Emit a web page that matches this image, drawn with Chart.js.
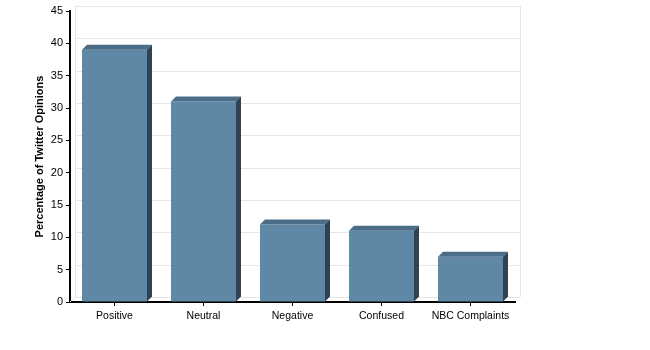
<!DOCTYPE html>
<html lang="en">
<head>
<meta charset="UTF-8">
<title>Twitter Opinions</title>
<script src="https://cdn.jsdelivr.net/npm/chart.js"></script>
<style>
    body { margin: 0; background: #fff; }
</style>
</head>
<body>
<canvas id="bar-chart" width="650" height="350"></canvas>

<script>
    var categories = ['Positive', 'Neutral', 'Negative', 'Confused', 'NBC Complaints'];
    var percentages = [39, 31, 12, 11, 7];
    var yTicks = [0, 5, 10, 15, 20, 25, 30, 35, 40, 45];

    var depth = 5;
    var frontColor = '#5f87a6';
    var topColor = '#4b6d87';
    var sideColor = '#2d4354';
    var fontFamily = "'Liberation Sans', Arial, sans-serif";

    // back wall grid, pushed back by the bar depth
    var backWall = {
        id: 'backWall',
        beforeDatasetsDraw: function(chart) {
            var ctx = chart.ctx;
            var area = chart.chartArea;
            var y = chart.scales.y;
            ctx.save();
            ctx.strokeStyle = '#e6e6e6';
            ctx.lineWidth = 1;
            yTicks.forEach(function(v) {
                var py = Math.round(y.getPixelForValue(v) - depth) + 0.5;
                ctx.beginPath();
                ctx.moveTo(area.left + depth, py);
                ctx.lineTo(area.right + depth, py);
                ctx.stroke();
            });
            [area.left + depth, area.right + depth].forEach(function(px) {
                px = Math.round(px) + 0.5;
                ctx.beginPath();
                ctx.moveTo(px, area.top - depth);
                ctx.lineTo(px, area.bottom - depth);
                ctx.stroke();
            });
            ctx.beginPath();
            ctx.moveTo(area.left, area.bottom);
            ctx.lineTo(area.left + depth, area.bottom - depth);
            ctx.stroke();
            ctx.restore();
        }
    };

    // top and side faces for each bar
    var barDepth = {
        id: 'barDepth',
        afterDatasetsDraw: function(chart) {
            var ctx = chart.ctx;
            chart.getDatasetMeta(0).data.forEach(function(bar) {
                var l = bar.x - bar.width / 2;
                var r = bar.x + bar.width / 2;
                var t = bar.y;
                var b = bar.base;
                ctx.save();
                ctx.fillStyle = topColor;
                ctx.beginPath();
                ctx.moveTo(l, t);
                ctx.lineTo(l + depth, t - depth);
                ctx.lineTo(r + depth, t - depth);
                ctx.lineTo(r, t);
                ctx.closePath();
                ctx.fill();
                ctx.fillStyle = sideColor;
                ctx.beginPath();
                ctx.moveTo(r, t);
                ctx.lineTo(r + depth, t - depth);
                ctx.lineTo(r + depth, b - depth);
                ctx.lineTo(r, b);
                ctx.closePath();
                ctx.fill();
                ctx.restore();
            });
        }
    };

    var ctx = document.getElementById('bar-chart').getContext('2d');
    var chart = new Chart(ctx, {
        type: 'bar',
        data: {
            labels: categories,
            datasets: [{
                data: percentages,
                backgroundColor: frontColor,
                borderWidth: 0,
                categoryPercentage: 1,
                barPercentage: 0.73
            }]
        },
        options: {
            responsive: false,
            animation: false,
            layout: { padding: { top: 11, right: 135, left: 0, bottom: 0 } },
            plugins: {
                legend: { display: false },
                tooltip: { enabled: false }
            },
            scales: {
                x: {
                    afterFit: function(scale) { scale.height = 48; },
                    border: { display: true, color: '#000', width: 2 },
                    grid: {
                        offset: false,
                        drawOnChartArea: false,
                        drawTicks: true,
                        tickLength: 4,
                        color: '#000'
                    },
                    ticks: {
                        color: '#000',
                        padding: 4,
                        maxRotation: 0,
                        font: { family: fontFamily, size: 10.5 }
                    }
                },
                y: {
                    min: 0,
                    max: 45,
                    afterFit: function(scale) { scale.width = 70; },
                    border: { display: true, color: '#000', width: 2 },
                    grid: {
                        drawOnChartArea: false,
                        drawTicks: true,
                        tickLength: 4,
                        color: '#000'
                    },
                    ticks: {
                        stepSize: 5,
                        color: '#000',
                        padding: 3,
                        font: { family: fontFamily, size: 11 }
                    },
                    title: {
                        display: true,
                        text: 'Percentage of Twitter Opinions',
                        color: '#000',
                        padding: { top: 33, bottom: 0 },
                        font: { family: fontFamily, size: 11, weight: 'bold' }
                    }
                }
            }
        },
        plugins: [backWall, barDepth]
    });
</script>
</body>
</html>
